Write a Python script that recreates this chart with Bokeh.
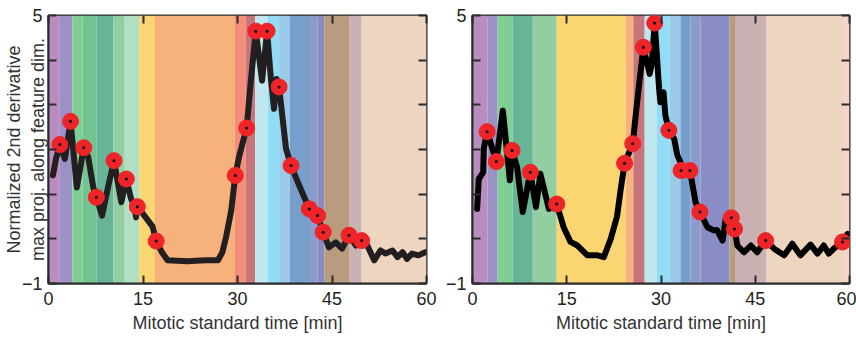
from bokeh.plotting import figure
from bokeh.models import Range1d, FixedTicker, LinearAxis
from bokeh.layouts import row
from bokeh.embed import file_html
from bokeh.resources import INLINE

# ---------------- data ----------------
x_ticks = [0, 15, 30, 45, 60]
y_label_ticks = [-1, 5]
y_minor_ticks = [0, 1, 2, 3, 4]

# phase band boundaries (minutes) and colours, left panel
left_bounds = [0, 1.8, 3.8, 5.4, 7.6, 10.3, 12.1, 14.4, 16.9, 29.6, 31.3, 32.8,
               34.8, 36.6, 38.3, 41.5, 42.7, 43.8, 47.8, 49.7, 60]
left_colors = ["#BA8DC1", "#9C91C5", "#7FCF95", "#74C393", "#67B596", "#93CEA3",
               "#B2DFC4", "#FBD571", "#F7B27B", "#F58E78", "#C7757A", "#BFE7EF",
               "#93DCF5", "#9ACAE7", "#789FCB", "#8C9BCB", "#8A8CC4", "#B99B7D",
               "#CAB1B3", "#EDD5BF"]

# right panel
right_bounds = [0, 2.4, 4.0, 6.4, 9.6, 13.4, 24.4, 25.6, 27.4, 29.3, 31.4, 33.1,
                34.7, 36.3, 40.9, 41.9, 46.8, 59.1, 60]
right_colors = ["#BA8DC1", "#9C91C5", "#7FCF95", "#67B596", "#93CEA3", "#FBD571",
                "#F7B27B", "#C7757A", "#BFE7EF", "#93DCF5", "#9ACAE7", "#789FCB",
                "#8C9BCB", "#8A8CC4", "#B99B7D", "#CAB1B3", "#EDD5BF", "#F8D3CA"]

left_t = [0.7, 1.2, 1.8, 2.6, 3.5, 4.5, 5.6, 6.3, 7.1, 7.6, 8.5, 9.45, 10.4, 11.56,
          12.35, 13.1, 13.6, 13.9, 14.1, 15.0, 16.5, 17.1, 18.0, 18.9, 22.0, 25.0,
          26.9, 27.6, 28.2, 29.0, 29.65, 30.3, 31.45, 32.1, 32.9, 33.9, 34.7, 35.3,
          35.8, 36.2, 36.6, 37.7, 38.5, 39.8, 41.4, 42.7, 43.6, 44.5, 45.6, 46.6,
          47.7, 48.8, 49.7, 50.6, 51.7, 52.7, 53.5, 54.6, 55.4, 56.2, 56.9, 57.7,
          58.7, 59.8]
left_y = [1.42, 1.80, 2.11, 1.79, 2.63, 1.15, 2.04, 1.83, 1.16, 0.93, 0.52, 1.16, 1.75,
          0.82, 1.34, 0.90, 0.75, 0.48, 0.72, 0.56, 0.28, -0.05, -0.30, -0.48, -0.50,
          -0.48, -0.48, -0.30, 0.05, 0.63, 1.42, 1.87, 2.48, 3.51, 4.65, 3.54, 4.65,
          3.58, 2.91, 3.58, 3.40, 2.02, 1.64, 1.19, 0.67, 0.52, 0.15, -0.19, -0.08,
          -0.22, 0.08, -0.15, -0.04, -0.15, -0.48, -0.26, -0.33, -0.26, -0.41, -0.30,
          -0.45, -0.33, -0.37, -0.30]
left_dot_t = [1.8, 3.5, 5.6, 7.6, 10.4, 12.35, 14.1, 17.1, 29.65, 31.45, 32.9, 34.7,
              36.6, 38.5, 41.4, 42.7, 43.6, 47.7, 49.7]
left_dot_y = [2.11, 2.63, 2.04, 0.93, 1.75, 1.34, 0.72, -0.05, 1.42, 2.48, 4.65, 4.65,
              3.40, 1.64, 0.67, 0.52, 0.15, 0.08, -0.04]

right_t = [0.74, 1.0, 1.7, 1.8, 2.33, 3.1, 3.8, 4.83, 5.94, 6.3, 7.1, 8.0, 9.2, 10.1,
           10.8, 12.15, 13.4, 14.5, 15.6, 16.7, 18.3, 19.9, 20.9, 22.0, 23.0, 23.6,
           24.2, 25.5, 26.2, 27.2, 28.2, 28.5, 29.0, 29.7, 29.9, 30.4, 30.7, 31.25,
           32.1, 32.6, 33.1, 33.2, 34.6, 35.5, 36.2, 37.4, 38.4, 38.9, 39.8, 40.3,
           41.2, 41.7, 42.15, 43.2, 44.3, 45.3, 46.65, 48.0, 49.6, 50.9, 52.2, 53.8,
           54.9, 55.9, 56.7, 57.5, 58.9, 59.7]
right_y = [0.67, 1.34, 1.49, 2.02, 2.40, 2.05, 1.73, 2.87, 1.31, 1.98, 1.60, 0.60, 1.49,
           0.71, 1.46, 0.67, 0.78, 0.26, -0.07, -0.15, -0.37, -0.37, -0.41, 0.00, 0.50,
           1.12, 1.69, 2.13, 3.06, 4.29, 3.69, 3.90, 4.83, 3.36, 3.06, 3.28, 2.76, 2.43,
           2.24, 1.87, 1.72, 1.53, 1.53, 0.82, 0.60, 0.26, 0.19, 0.20, -0.04, 0.45,
           0.47, 0.22, -0.15, -0.30, -0.15, -0.30, -0.04, -0.22, -0.37, -0.11, -0.37,
           -0.13, -0.33, -0.15, -0.33, -0.22, -0.07, 0.11]
right_dot_t = [2.33, 3.8, 6.3, 9.2, 13.4, 24.2, 25.5, 27.2, 29.0, 31.25, 33.2, 34.6,
               36.2, 41.2, 41.7, 46.65, 58.9]
right_dot_y = [2.40, 1.73, 1.98, 1.49, 0.78, 1.69, 2.13, 4.29, 4.83, 2.43, 1.53, 1.53,
               0.60, 0.47, 0.22, -0.04, -0.07]

x_label = "Mitotic standard time [min]"
y_label = "Normalized 2nd derivative\nmax proj. along feature dim."

FONT = "Liberation Sans"
TXT = "#231F20"
EDGE = "#2b2b2b"


def style_ticks(ax):
    ax.major_tick_in = 8
    ax.major_tick_out = 0
    ax.minor_tick_in = 8
    ax.minor_tick_out = 0
    ax.major_tick_line_width = 2
    ax.minor_tick_line_width = 2
    ax.major_tick_line_color = EDGE
    ax.minor_tick_line_color = EDGE


def make_panel(width, border_left, border_right, bounds, colors, t, y, dt, dy,
               line_color):
    p = figure(width=width, height=338, output_backend="svg", toolbar_location=None,
               x_range=Range1d(0, 60), y_range=Range1d(-1, 5),
               min_border_left=border_left, min_border_right=border_right,
               min_border_top=15, min_border_bottom=55)
    p.grid.visible = False
    p.outline_line_color = EDGE
    p.outline_line_width = 2
    p.background_fill_color = "white"

    p.quad(left=bounds[:-1], right=bounds[1:], bottom=-1, top=5,
           fill_color=colors, line_color=None)
    p.line(t, y, line_color=line_color, line_width=6, line_join="round",
           line_cap="round")
    p.scatter(dt, dy, size=16, fill_color="#EE2428", line_color="#EE2428")
    p.scatter(dt, dy, size=3, fill_color="black", line_color=None)

    xax = p.below[0]
    yax = p.left[0]
    for ax in (xax, yax):
        style_ticks(ax)
        ax.axis_line_width = 2
        ax.axis_line_color = EDGE
        ax.major_label_text_font = FONT
        ax.major_label_text_font_size = "18px"
        ax.major_label_text_color = TXT
        ax.major_label_standoff = 6
    xax.ticker = FixedTicker(ticks=x_ticks)
    yax.ticker = FixedTicker(ticks=y_label_ticks, minor_ticks=y_minor_ticks)
    xax.major_label_standoff = 8
    xax.axis_label = x_label
    xax.axis_label_text_font = FONT
    xax.axis_label_text_font_size = "18px"
    xax.axis_label_text_font_style = "normal"
    xax.axis_label_text_color = "#333333"
    xax.axis_label_standoff = 5

    for side, ticks in (("above", x_ticks), ("right", y_label_ticks + y_minor_ticks)):
        ax = LinearAxis(ticker=FixedTicker(ticks=[], minor_ticks=ticks),
                        axis_line_color=None, major_label_standoff=0)
        style_ticks(ax)
        p.add_layout(ax, side)
    return p


p1 = make_panel(440, 47, 14, left_bounds, left_colors, left_t, left_y,
                left_dot_t, left_dot_y, "#231F20")
ylab_axis = p1.left[0]
ylab_axis.axis_label = y_label
ylab_axis.axis_label_text_font = FONT
ylab_axis.axis_label_text_font_size = "18px"
ylab_axis.axis_label_text_font_style = "normal"
ylab_axis.axis_label_text_color = "#333333"
ylab_axis.axis_label_standoff = -29

p2 = make_panel(416, 32, 7, right_bounds, right_colors, right_t, right_y,
                right_dot_t, right_dot_y, "black")

layout = row(p1, p2)
open("out.html", "w").write(file_html(layout, INLINE))
